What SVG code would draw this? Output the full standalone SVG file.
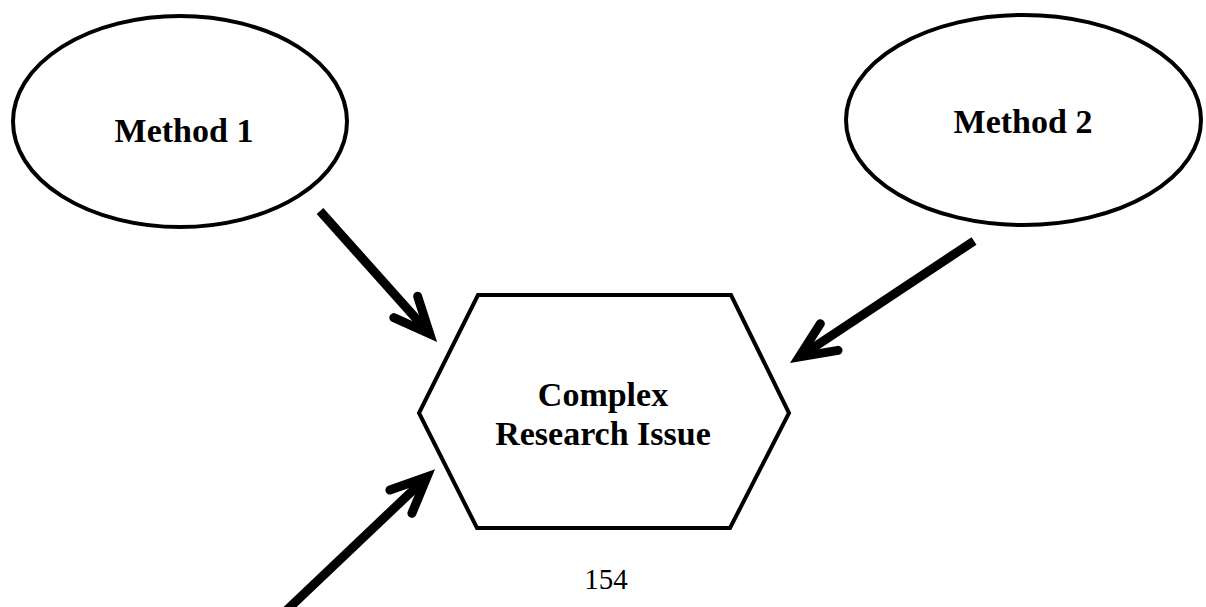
<svg xmlns="http://www.w3.org/2000/svg" width="1206" height="607" viewBox="0 0 1206 607">
  <style>
    .shape { fill: #ffffff; stroke: #000000; stroke-width: 4; }
    .label { font-family: "Liberation Serif", "Times New Roman", serif; font-weight: bold; font-size: 34px; fill: #000000; text-anchor: middle; }
    .page { font-family: "Liberation Serif", "Times New Roman", serif; font-size: 29px; fill: #000000; text-anchor: middle; }
    .arrow { fill: none; stroke: #000000; stroke-width: 9; stroke-linecap: butt; marker-end: url(#head); }
  </style>
  <defs>
    <!-- open chevron head drawn with the same heavy stroke as the shaft -->
    <marker id="head" markerUnits="userSpaceOnUse" orient="auto" refX="0" refY="0" markerWidth="60" markerHeight="60" overflow="visible">
      <path d="M-36,-16 L0,0 L-36,16" fill="none" stroke="#000000" stroke-width="9" stroke-linejoin="miter" stroke-linecap="round" stroke-miterlimit="6"/>
    </marker>
  </defs>

  <rect width="1206" height="607" fill="#ffffff"/>

  <g id="method1">
    <ellipse class="shape" cx="180" cy="121.5" rx="167" ry="105.5"/>
    <text class="label" x="184" y="142">Method 1</text>
  </g>

  <g id="method2">
    <ellipse class="shape" cx="1023.5" cy="120" rx="177.5" ry="105"/>
    <text class="label" x="1023" y="133">Method 2</text>
  </g>

  <g id="issue">
    <polygon class="shape" points="478,295 731,295 789,413 730,528 477,528 419,413"/>
    <text class="label" x="603" y="406">Complex</text>
    <text class="label" x="603" y="445">Research Issue</text>
  </g>

  <g id="connectors">
    <line class="arrow" x1="320" y1="211" x2="429.7" y2="333.8"/>
    <line class="arrow" x1="974" y1="241" x2="799.2" y2="356.9"/>
    <line class="arrow" x1="282.8" y1="613.9" x2="427" y2="476.9"/>
  </g>

  <text class="page" x="606" y="589">154</text>
</svg>
